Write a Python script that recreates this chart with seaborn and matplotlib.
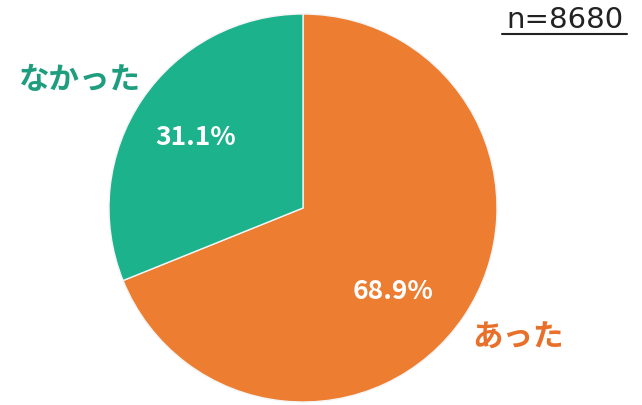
import matplotlib
matplotlib.use('Agg')
import matplotlib.pyplot as plt
import seaborn as sns
from matplotlib.lines import Line2D

labels = ['あった', 'なかった']
values = [68.9, 31.1]
colors = ['#ED7D31', '#1BB28C']
label_colors = ['#E8702A', '#1E9E7E']
n_text = 'n=8680'

sns.set_theme(style='white')
plt.rcParams['font.family'] = ['Noto Sans CJK JP', 'DejaVu Sans']

W, H = 642, 406
fig = plt.figure(figsize=(W / 100, H / 100), dpi=100)
cx, cy, r = 303, 406 - 209, 194
ax = fig.add_axes([(cx - r) / W, (cy - r) / H, 2 * r / W, 2 * r / H])
ax.pie(values, colors=colors, startangle=90, counterclock=False,
       wedgeprops=dict(edgecolor='#f4f4f4', linewidth=1))
ax.set_aspect('equal')
ax.set_xlim(-1, 1)
ax.set_ylim(-1, 1)

def px(x, y):
    return x / W, 1 - y / H

# percentage labels inside slices
fig.text(*px(393, 292), f'{values[0]}%', color='white', fontsize=19,
         fontweight='bold', ha='center', va='center')
fig.text(*px(196, 138), f'{values[1]}%', color='white', fontsize=19,
         fontweight='bold', ha='center', va='center')

# category labels outside
fig.text(*px(518, 338), labels[0], color=label_colors[0], fontsize=22,
         fontweight='bold', ha='center', va='center')
fig.text(*px(80, 80), labels[1], color=label_colors[1], fontsize=22,
         fontweight='bold', ha='center', va='center')

# sample size, underlined
fig.text(*px(565, 20), n_text, color='#222222', fontsize=21,
         family='DejaVu Sans', ha='center', va='center')
fig.add_artist(Line2D([502 / W, 627 / W], [1 - 35 / H, 1 - 35 / H],
                      color='#222222', linewidth=1.5))

fig.savefig('out.png', dpi=100)
